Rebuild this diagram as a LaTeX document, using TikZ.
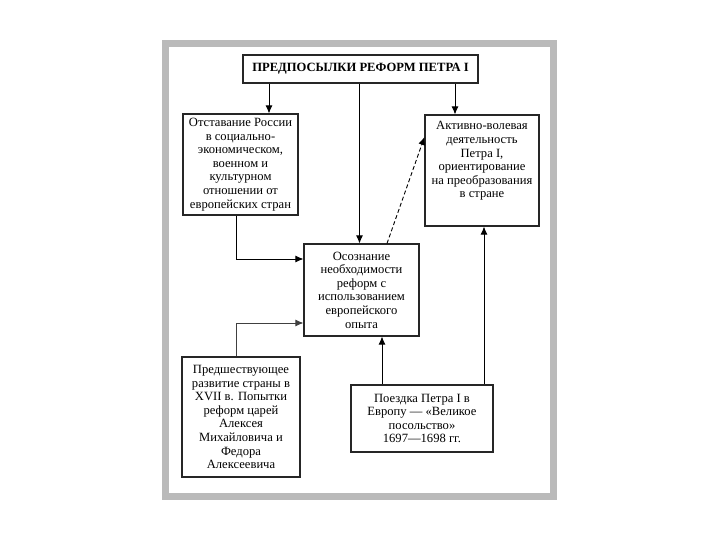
\documentclass[tikz,border=0pt]{standalone}
\usepackage{fontspec}
\setmainfont{Liberation Serif}
\usetikzlibrary{arrows.meta}
\begin{document}
\begin{tikzpicture}[x=1pt,y=-1pt,
  box/.style={draw=black!85,line width=1.1pt,inner sep=0pt,align=center,font=\fontsize{12.6}{13.6}\selectfont},
  arr/.style={line width=0.9pt,-{Latex[length=8pt,width=7pt]}},
  frame/.style={draw=black!27,line width=7pt}]
\useasboundingbox (0,0) rectangle (720,540);
\fill[white] (0,0) rectangle (720,540);
\draw[frame] (165.5,43.5) rectangle (553.5,496.5);
\node[box,minimum width=235pt,minimum height=28pt,font=\fontsize{12.6}{14}\selectfont\bfseries] (title) at (360.5,69) {ПРЕДПОСЫЛКИ РЕФОРМ ПЕТРА I};
\node[box,minimum width=115pt,minimum height=101pt] (lag) at (240.5,164.5) {Отставание России\\в социально-\\экономическом,\\военном и\\культурном\\отношении от\\европейских стран};
\node[box,minimum width=114pt,minimum height=111pt] (act) at (482,170.5) {\parbox[c][106pt][t]{112pt}{\vspace*{4pt}\centering Активно-волевая\\деятельность\\Петра I,\\ориентирование\\на преобразования\\в стране}};
\node[box,minimum width=115pt,minimum height=92pt] (aware) at (361.5,290) {Осознание\\необходимости\\реформ с\\использованием\\европейского\\опыта};
\node[box,minimum width=118pt,minimum height=120pt] (prev) at (241,417) {Предшествующее\\развитие страны в\\XVII в. Попытки\\реформ царей\\Алексея\\Михайловича и\\Федора\\Алексеевича};
\node[box,minimum width=142pt,minimum height=67pt] (trip) at (422,418.5) {Поездка Петра I в\\Европу — «Великое\\посольство»\\1697—1698 гг.};
\coordinate (xL) at (269,0);
\coordinate (xC) at (359.5,0);
\coordinate (xR) at (455,0);
\coordinate (xB) at (236,0);
\coordinate (xD) at (387,0);
\coordinate (xT1) at (382,0);
\coordinate (xT2) at (484,0);
\coordinate (yA) at (0,259);
\coordinate (yB) at (0,323);
\coordinate (yD) at (0,137);
\draw[arr] (title.south -| xL) -- (lag.north -| xL);
\draw[arr] (title.south -| xC) -- (aware.north -| xC);
\draw[arr] (title.south -| xR) -- (act.north -| xR);
\draw[arr] (lag.south -| xB) |- (aware.west |- yA);
\draw[arr,draw=black!75] (prev.north -| xB) |- (aware.west |- yB);
\draw[arr,dashed,dash pattern=on 4pt off 2.5pt] (aware.north -| xD) -- (act.west |- yD);
\draw[arr] (trip.north -| xT1) -- (aware.south -| xT1);
\draw[arr] (trip.north -| xT2) -- (act.south -| xT2);
\end{tikzpicture}
\end{document}
